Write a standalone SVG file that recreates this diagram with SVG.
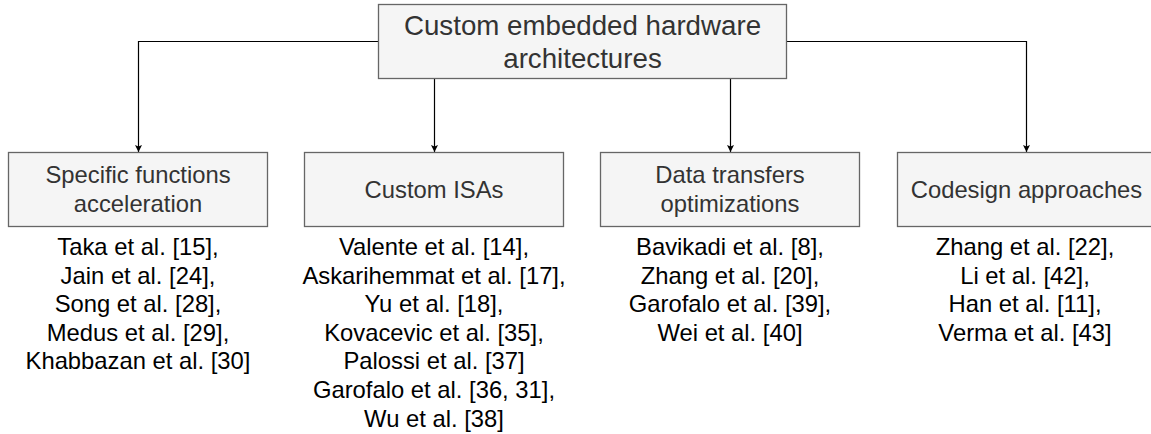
<svg xmlns="http://www.w3.org/2000/svg" width="1151" height="434" viewBox="0 0 1151 434">
<style>
.box{fill:#f5f5f5;stroke:#666666;stroke-width:1.3}
.t{font-family:"Liberation Sans",Arial,sans-serif;text-anchor:middle}
.h{font-size:27.7px;fill:#333333}
.s{font-size:23.8px;fill:#333333}
.l{font-size:23.8px;fill:#000000}
.c{fill:none;stroke:#000000;stroke-width:1.2}
</style>
<defs>
<marker id="arr" markerWidth="10" markerHeight="10" refX="8" refY="5" orient="auto" markerUnits="userSpaceOnUse">
<path d="M1,1.5 L8,5 L1,8.5 L2.5,5 Z" fill="#000000"/>
</marker>
</defs>
<g id="connectors">
<path class="c" d="M378.5,41.5 H138.5 V152" marker-end="url(#arr)"/>
<path class="c" d="M434.5,78.5 V152" marker-end="url(#arr)"/>
<path class="c" d="M730.5,78.5 V152" marker-end="url(#arr)"/>
<path class="c" d="M786.5,41.5 H1026.5 V152" marker-end="url(#arr)"/>
</g>
<g id="root">
<rect class="box" x="378.5" y="4.5" width="408" height="74"/>
<text class="t h" x="582.5" y="35.4">Custom embedded hardware</text>
<text class="t h" x="582.5" y="68.4">architectures</text>
</g>
<g id="specific">
<rect class="box" x="8.5" y="152.5" width="259" height="74"/>
<text class="t s" x="138" y="183.4">Specific functions</text>
<text class="t s" x="138" y="212.4">acceleration</text>
</g>
<g id="isas">
<rect class="box" x="304.5" y="152.5" width="259" height="74"/>
<text class="t s" x="434" y="197.6">Custom ISAs</text>
</g>
<g id="data">
<rect class="box" x="600.5" y="152.5" width="259" height="74"/>
<text class="t s" x="730" y="183.4">Data transfers</text>
<text class="t s" x="730" y="212.4">optimizations</text>
</g>
<g id="codesign">
<rect class="box" x="897.5" y="152.5" width="259" height="74"/>
<text class="t s" x="1026.5" y="197.6">Codesign approaches</text>
</g>
<g id="list-specific">
<text class="t l" x="138" y="255">Taka et al. [15],</text>
<text class="t l" x="138" y="283.6">Jain et al. [24],</text>
<text class="t l" x="138" y="312.2">Song et al. [28],</text>
<text class="t l" x="138" y="340.8">Medus et al. [29],</text>
<text class="t l" x="138" y="369.4">Khabbazan et al. [30]</text>
</g>
<g id="list-isas">
<text class="t l" x="434" y="255">Valente et al. [14],</text>
<text class="t l" x="434" y="283.6">Askarihemmat et al. [17],</text>
<text class="t l" x="434" y="312.2">Yu et al. [18],</text>
<text class="t l" x="434" y="340.8">Kovacevic et al. [35],</text>
<text class="t l" x="434" y="369.4">Palossi et al. [37]</text>
<text class="t l" x="434" y="398">Garofalo et al. [36, 31],</text>
<text class="t l" x="434" y="426.6">Wu et al. [38]</text>
</g>
<g id="list-data">
<text class="t l" x="730" y="255">Bavikadi et al. [8],</text>
<text class="t l" x="730" y="283.6">Zhang et al. [20],</text>
<text class="t l" x="730" y="312.2">Garofalo et al. [39],</text>
<text class="t l" x="730" y="340.8">Wei et al. [40]</text>
</g>
<g id="list-codesign">
<text class="t l" x="1025" y="255">Zhang et al. [22],</text>
<text class="t l" x="1025" y="283.6">Li et al. [42],</text>
<text class="t l" x="1025" y="312.2">Han et al. [11],</text>
<text class="t l" x="1025" y="340.8">Verma et al. [43]</text>
</g>
</svg>
